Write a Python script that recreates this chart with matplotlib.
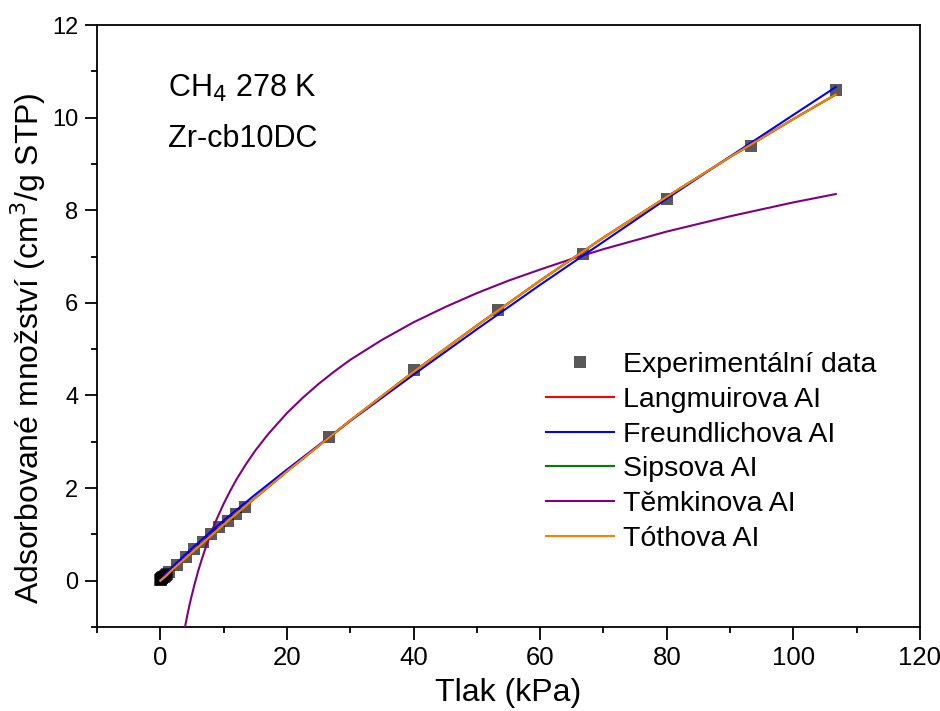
import matplotlib.pyplot as plt
from matplotlib.ticker import MultipleLocator

plt.rcParams['font.family'] = ['Liberation Sans', 'DejaVu Sans']

# experimental isotherm, CH4 at 278 K
p_exp = [0.02, 0.05, 0.1, 0.15, 0.2, 0.3, 0.4, 0.55, 0.7, 0.85, 1.0, 1.33,
         2.67, 4.0, 5.33, 6.67, 8.0, 9.33, 10.67, 12.0, 13.33,
         26.7, 40.0, 53.3, 66.7, 80.0, 93.3, 106.7]
q_exp = [0.01, 0.02, 0.03, 0.04, 0.05, 0.06, 0.07, 0.09, 0.1, 0.12, 0.14, 0.19,
         0.35, 0.52, 0.68, 0.84, 1.0, 1.15, 1.3, 1.45, 1.6,
         3.1, 4.55, 5.85, 7.05, 8.25, 9.38, 10.6]

# fitted curves
p_fit = [0, 1, 2, 5, 10, 15, 20, 30, 40, 50, 60, 70, 80, 90, 100, 106.7]
q_langmuir = [0, 0.12, 0.25, 0.61, 1.21, 1.79, 2.36, 3.46, 4.51, 5.51, 6.48, 7.41, 8.29, 9.15, 9.97, 10.5]
q_freundlich = [0, 0.17, 0.31, 0.70, 1.30, 1.86, 2.40, 3.45, 4.45, 5.43, 6.39, 7.32, 8.25, 9.16, 10.06, 10.66]
q_sips = [0, 0.12, 0.25, 0.61, 1.21, 1.79, 2.36, 3.46, 4.51, 5.51, 6.48, 7.41, 8.29, 9.15, 9.97, 10.5]
q_toth = [0, 0.12, 0.25, 0.61, 1.21, 1.79, 2.36, 3.46, 4.51, 5.51, 6.48, 7.41, 8.29, 9.15, 9.97, 10.5]

p_temkin = [3.7, 3.9, 4.1, 4.3, 4.6, 5, 5.5, 6, 6.5, 7, 8, 9, 10, 11, 12, 13.5, 15, 17,
            20, 22.5, 25, 27.5, 30, 35, 40, 45, 50, 55, 60, 65, 70, 80, 90, 100, 106.7]
q_temkin = [-1.15, -1.0, -0.86, -0.72, -0.53, -0.3, -0.03, 0.22, 0.44, 0.65, 1.03, 1.36,
            1.66, 1.93, 2.18, 2.51, 2.81, 3.16, 3.62, 3.95, 4.25, 4.52, 4.77, 5.2, 5.58,
            5.91, 6.21, 6.48, 6.72, 6.95, 7.16, 7.54, 7.87, 8.17, 8.35]

fig = plt.figure(figsize=(9.4, 7.11), dpi=100)
ax = fig.add_axes([0.1032, 0.1181, 0.8755, 0.8467])

ax.plot(p_exp, q_exp, 's', color='black', alpha=0.65, markersize=8.5,
        markeredgewidth=0, label='Experimentální data', zorder=3)
ax.plot(p_fit, q_langmuir, color='#ff0000', lw=1.5, label='Langmuirova AI', zorder=4)
ax.plot(p_fit, q_freundlich, color='#0000ff', lw=1.5, label='Freundlichova AI', zorder=5)
ax.plot(p_fit, q_sips, color='#008000', lw=1.5, label='Sipsova AI', zorder=4)
ax.plot(p_temkin, q_temkin, color='#800080', lw=1.5, label='Těmkinova AI', zorder=4)
ax.plot(p_fit, q_toth, color='#ff8000', lw=1.5, label='Tóthova AI', zorder=6)

ax.set_xlim(-10, 120)
ax.set_ylim(-1, 12)
ax.xaxis.set_major_locator(MultipleLocator(20))
ax.xaxis.set_minor_locator(MultipleLocator(10))
ax.yaxis.set_major_locator(MultipleLocator(2))
ax.yaxis.set_minor_locator(MultipleLocator(1))
ax.tick_params(which='both', direction='out', top=False, right=False, width=1.3)
ax.tick_params(which='major', length=9)
ax.tick_params(which='minor', length=4.5)
ax.tick_params(axis='x', which='major', labelsize=18.5, pad=5)
ax.tick_params(axis='y', which='major', labelsize=17, pad=4.5)
for s in ax.spines.values():
    s.set_linewidth(1.3)

ax.set_xlabel('Tlak (kPa)', fontsize=23)
ax.set_ylabel('Adsorbované množství (cm$^3$/g STP)', fontsize=23)
ax.xaxis.set_label_coords(0.5, -0.085)
ax.yaxis.set_label_coords(-0.060, 0.463)

ax.text(0.0863, 0.880, 'CH$_4$ 278 K', transform=ax.transAxes, fontsize=22, va='baseline')
ax.text(0.0863, 0.797, 'Zr-cb10DC', transform=ax.transAxes, fontsize=22, va='baseline')

ax.legend(loc='upper left', bbox_to_anchor=(0.5456, 0.457), frameon=False, fontsize=20.5,
          handlelength=2.4, handletextpad=0.3, labelspacing=0.31, borderpad=0,
          borderaxespad=0)

fig.savefig('out.png', dpi=100)
